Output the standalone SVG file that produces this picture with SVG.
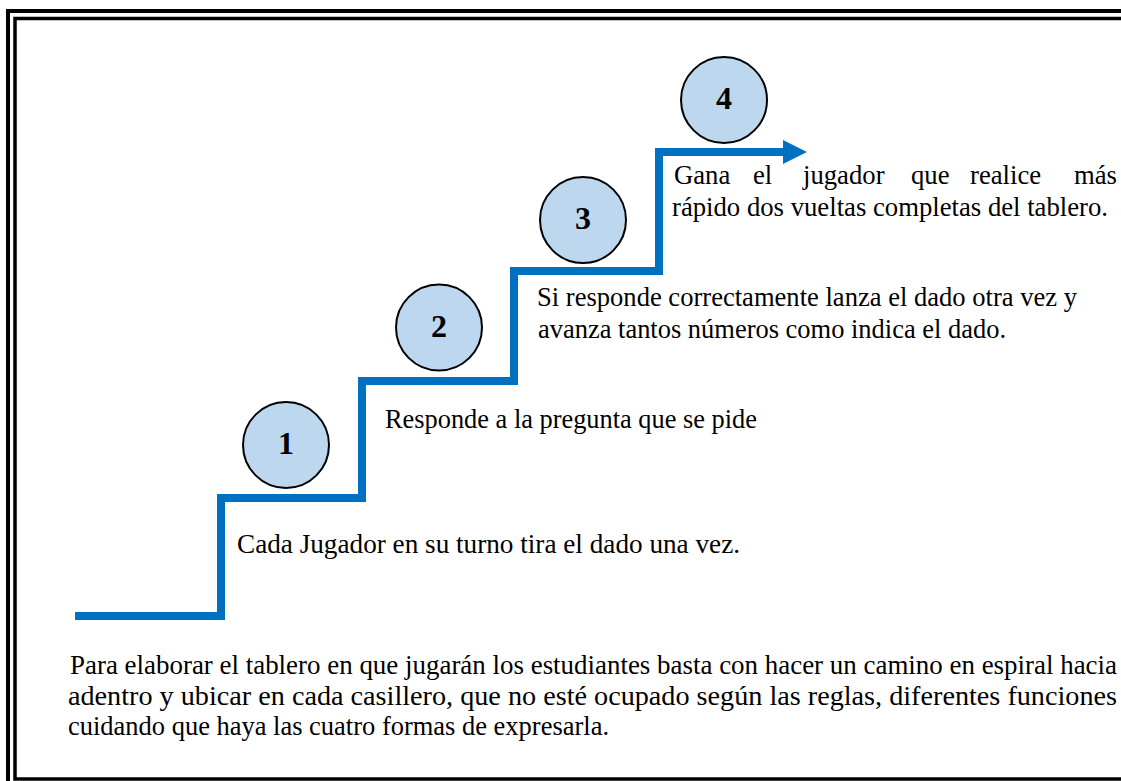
<svg xmlns="http://www.w3.org/2000/svg" width="1121" height="781" viewBox="0 0 1121 781">
<style>
.frame{fill:none;stroke:#000}
.num{fill:#BDD7EE;stroke:#000;stroke-width:2}
.nt{font-family:'Liberation Serif','Times New Roman',serif;font-weight:bold;font-size:32px;text-anchor:middle;fill:#000}
.t{font-family:'Liberation Serif','Times New Roman',serif;font-size:26.7px;fill:#000}
.p{font-family:'Liberation Serif','Times New Roman',serif;font-size:26.7px;fill:#000}
.e{text-anchor:end}
</style>
<rect width="1121" height="781" fill="#fff"/>
<g id="frame">
<rect class="frame" x="8" y="11" width="1130" height="790" stroke-width="4"/>
<rect class="frame" x="15" y="18.5" width="1120" height="760.5" stroke-width="3.5"/>
</g>
<g id="connectors">
<path d="M75 616 H221 V498 H362 V381 H514 V271 H659 V152 H786" fill="none" stroke="#0070C0" stroke-width="8"/>
<polygon points="783,140 807,152 783,164" fill="#0070C0"/>
</g>
<g id="node1">
<circle class="num" cx="286" cy="445" r="43"/>
<text class="nt" x="286" y="454">1</text>
</g>
<g id="node2">
<circle class="num" cx="439" cy="327.5" r="43"/>
<text class="nt" x="439" y="337">2</text>
</g>
<g id="node3">
<circle class="num" cx="583" cy="220" r="43"/>
<text class="nt" x="583" y="229">3</text>
</g>
<g id="node4">
<circle class="num" cx="724" cy="100" r="43"/>
<text class="nt" x="724" y="109">4</text>
</g>
<g id="text1">
<text class="t" x="237" y="553" textLength="503" lengthAdjust="spacingAndGlyphs">Cada Jugador en su turno tira el dado una vez.</text>
</g>
<g id="text2">
<text class="t" x="385" y="428" textLength="372" lengthAdjust="spacingAndGlyphs">Responde a la pregunta que se pide</text>
</g>
<g id="text3">
<text class="t" x="537" y="306" textLength="540" lengthAdjust="spacingAndGlyphs">Si responde correctamente lanza el dado otra vez y</text>
<text class="t" x="538" y="338" textLength="468" lengthAdjust="spacingAndGlyphs">avanza tantos números como indica el dado.</text>
</g>
<g id="text4">
<text class="t" y="184"><tspan x="674">Gana</tspan><tspan x="753">el</tspan><tspan x="803">jugador</tspan><tspan x="911">que</tspan><tspan x="970">realice</tspan></text>
<text class="t e" x="1117" y="184">más</text>
<text class="t" x="672" y="216" textLength="436" lengthAdjust="spacingAndGlyphs">rápido dos vueltas completas del tablero.</text>
</g>
<g id="paragraph">
<text class="p" x="70" y="674" textLength="1047" lengthAdjust="spacingAndGlyphs">Para elaborar el tablero en que jugarán los estudiantes basta con hacer un camino en espiral hacia</text>
<text class="p" x="68" y="705" textLength="1049" lengthAdjust="spacingAndGlyphs">adentro y ubicar en cada casillero, que no esté ocupado según las reglas, diferentes funciones</text>
<text class="p" x="68" y="735" textLength="541" lengthAdjust="spacingAndGlyphs">cuidando que haya las cuatro formas de expresarla.</text>
</g>
</svg>
